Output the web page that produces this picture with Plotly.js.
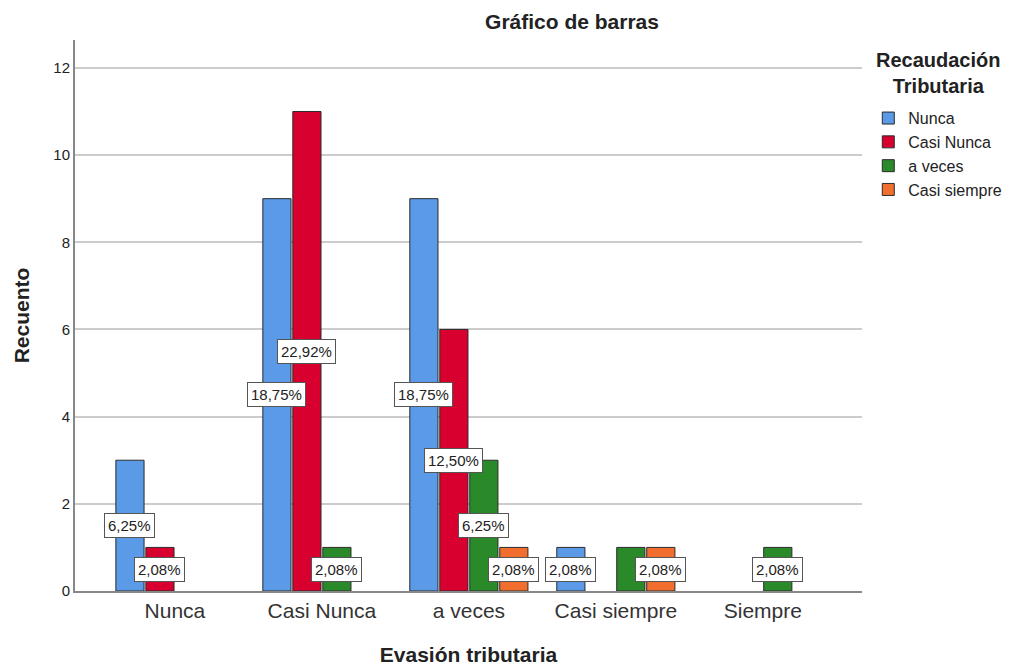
<!DOCTYPE html>
<html>
<head>
<meta charset="utf-8">
<script src="https://cdn.plot.ly/plotly-3.0.1.min.js"></script>
<style>html,body{margin:0;padding:0;background:#fff;}#chart{width:1016px;height:666px;}</style>
</head>
<body>
<div id="chart"></div>
<script>
const categories = ["Nunca", "Casi Nunca", "a veces", "Casi siempre", "Siempre"];
const seriesNames = ["Nunca", "Casi Nunca", "a veces", "Casi siempre"];
const seriesColors = ["#5A9AE6", "#D7002F", "#2A8A2A", "#F26E2E"];
const countsNunca = [3, 9, 9, 1, 0];
const countsCasiNunca = [1, 11, 6, 0, 0];
const countsAVeces = [0, 1, 3, 1, 1];
const countsCasiSiempre = [0, 0, 1, 1, 0];
const total = 48;
const legendTitle = "Recaudación<br>Tributaria";
// labels the original chart leaves out (series index, category index)
const hiddenLabels = [[2, 3]];

const allCounts = [countsNunca, countsCasiNunca, countsAVeces, countsCasiSiempre];
const FONT = "Liberation Sans, Arial, sans-serif";

const bargap = 0.184;
const nSeries = allCounts.length;
const slot = (1 - bargap) / nSeries;

const traces = allCounts.map((vals, i) => ({
  type: "bar",
  name: seriesNames[i],
  x: categories.map((c, k) => k),
  y: vals.map(v => v === 0 ? null : v),
  marker: { color: seriesColors[i], line: { color: "#2b2b2b", width: 1 } },
  hoverinfo: "skip"
}));

const annotations = [];
allCounts.forEach((vals, i) => {
  vals.forEach((v, k) => {
    const hidden = hiddenLabels.some(h => h[0] === i && h[1] === k);
    if (v > 0 && !hidden) {
      const pct = (v / total * 100).toFixed(2).replace(".", ",") + "%";
      annotations.push({
        x: k + (i - (nSeries - 1) / 2) * slot,
        y: v / 2,
        xref: "x", yref: "y",
        text: pct,
        showarrow: false,
        font: { family: FONT, size: 15, color: "#222" },
        bgcolor: "#ffffff",
        bordercolor: "#555555",
        borderwidth: 1,
        borderpad: 3
      });
    }
  });
});

// legend title, centred above the legend items
annotations.push({
  x: 1.0966, y: 0.941, xref: "paper", yref: "paper",
  xanchor: "center", yanchor: "middle", align: "center",
  text: "<b>" + legendTitle + "</b>",
  showarrow: false,
  font: { family: FONT, size: 20, color: "#222" }
});

const layout = {
  width: 1016, height: 666,
  margin: { l: 75, r: 154, t: 40, b: 75, autoexpand: false },
  paper_bgcolor: "#ffffff",
  plot_bgcolor: "#ffffff",
  font: { family: FONT, color: "#222" },
  title: {
    text: "<b>Gráfico de barras</b>",
    font: { family: FONT, size: 21, color: "#222" },
    x: 0.563, xanchor: "center", xref: "container",
    y: 0.967, yanchor: "middle", yref: "container"
  },
  barmode: "group",
  bargap: bargap,
  bargroupgap: 0.06,
  xaxis: {
    tickmode: "array",
    tickvals: categories.map((c, k) => k),
    ticktext: categories,
    range: [-0.68, 4.675],
    showgrid: false,
    zeroline: false,
    showline: true,
    linecolor: "#888",
    linewidth: 2,
    ticks: "",
    tickfont: { family: FONT, size: 21, color: "#333" },
    title: { text: "<b>Evasión tributaria</b>", font: { family: FONT, size: 21, color: "#222" }, standoff: 27 }
  },
  yaxis: {
    range: [0, 12.64],
    tickvals: [0, 2, 4, 6, 8, 10, 12],
    showgrid: true,
    gridcolor: "#cccccc",
    gridwidth: 2,
    zeroline: false,
    showline: true,
    linecolor: "#888",
    linewidth: 2,
    ticks: "",
    ticklen: 0,
    tickfont: { family: FONT, size: 15, color: "#222" },
    title: { text: "<b>Recuento</b>", font: { family: FONT, size: 21, color: "#222" }, standoff: 18 }
  },
  legend: {
    x: 1.008, xanchor: "left",
    y: 0.889, yanchor: "top",
    bgcolor: "rgba(0,0,0,0)",
    font: { family: FONT, size: 16, color: "#222" },
    tracegroupgap: 0,
    itemwidth: 30
  },
  annotations: annotations
};

Plotly.newPlot("chart", traces, layout, { displayModeBar: false, staticPlot: true });
</script>
</body>
</html>
